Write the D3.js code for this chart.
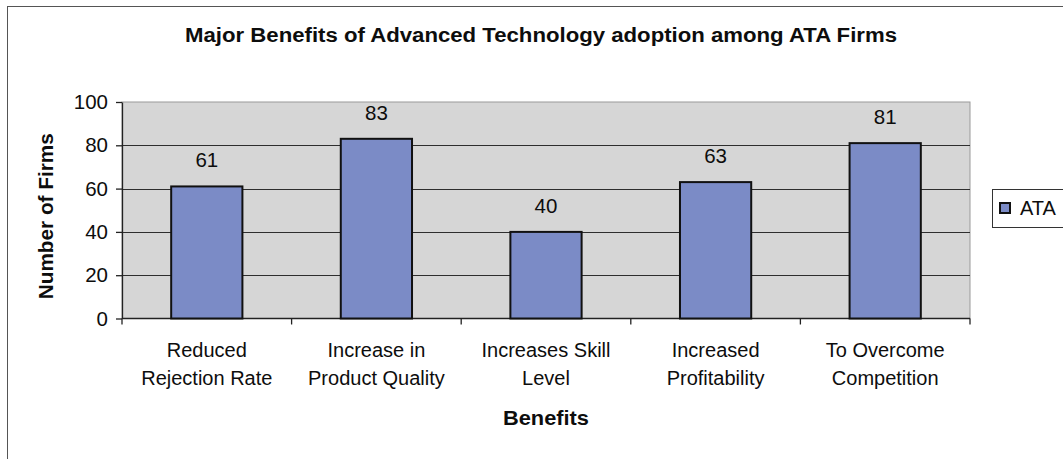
<!DOCTYPE html>
<html>
<head>
<meta charset="utf-8">
<script src="https://cdn.jsdelivr.net/npm/d3@7"></script>
<style>
  html, body { margin: 0; padding: 0; background: #fff; }
  svg { display: block; font-family: "Liberation Sans", Arial, sans-serif; }
</style>
</head>
<body>
<svg id="chart" width="1063" height="459"></svg>
<script>
// Benefits reported by ATA firms adopting advanced technology
const categories = [
  ["Reduced", "Rejection Rate"],
  ["Increase in", "Product Quality"],
  ["Increases Skill", "Level"],
  ["Increased", "Profitability"],
  ["To Overcome", "Competition"]
];
const ataValues = [61, 83, 40, 63, 81];
const yTicks = [0, 20, 40, 60, 80, 100];
const seriesName = "ATA";

const svg = d3.select("#chart");
const plot = { left: 122, right: 970, top: 102, bottom: 318.5 };
const ink = "#0d0d0d";

// outer chart frame
svg.append("rect")
  .attr("x", 7.5).attr("y", 6.5)
  .attr("width", 1100).attr("height", 460)
  .attr("fill", "#fff").attr("stroke", "#555").attr("stroke-width", 1);

const x = d3.scaleBand()
  .domain(d3.range(categories.length))
  .range([plot.left, plot.right])
  .paddingInner(0.58).paddingOuter(0.29);

const y = d3.scaleLinear().domain([0, 100]).range([plot.bottom, plot.top]);

// plot area
svg.append("rect")
  .attr("x", plot.left).attr("y", plot.top)
  .attr("width", plot.right - plot.left).attr("height", plot.bottom - plot.top)
  .attr("fill", "#d6d6d6").attr("stroke", "#9a9a9a").attr("stroke-width", 1);

// horizontal gridlines
svg.append("g")
  .selectAll("line")
  .data(yTicks.filter(t => t > 0 && t < 100))
  .join("line")
  .attr("x1", plot.left).attr("x2", plot.right)
  .attr("y1", d => Math.round(y(d)) + 0.5).attr("y2", d => Math.round(y(d)) + 0.5)
  .attr("stroke", "#2e2e2e").attr("stroke-width", 1.2);

// y axis
const yAxis = svg.append("g")
  .attr("transform", `translate(${plot.left},0)`)
  .call(d3.axisLeft(y).tickValues(yTicks).tickSize(6).tickPadding(8).tickSizeOuter(0));
yAxis.select(".domain").attr("stroke", "#222").attr("stroke-width", 1.3);
yAxis.selectAll(".tick line").attr("stroke", "#222").attr("stroke-width", 1.3);
yAxis.selectAll(".tick text")
  .attr("font-size", 20.5).attr("fill", ink)
  .attr("font-family", "'Liberation Sans', Arial, sans-serif");

// x axis with ticks at category boundaries
const step = x.step();
const boundaries = d3.range(categories.length + 1).map(i => plot.left + i * step);
svg.append("line")
  .attr("x1", plot.left).attr("x2", plot.right)
  .attr("y1", plot.bottom).attr("y2", plot.bottom)
  .attr("stroke", "#222").attr("stroke-width", 1.5);
svg.append("g").selectAll("line")
  .data(boundaries)
  .join("line")
  .attr("x1", d => d).attr("x2", d => d)
  .attr("y1", plot.bottom).attr("y2", plot.bottom + 6)
  .attr("stroke", "#222").attr("stroke-width", 1.3);

// bars
svg.append("g").selectAll("rect")
  .data(ataValues)
  .join("rect")
  .attr("x", (d, i) => x(i))
  .attr("y", d => y(d))
  .attr("width", x.bandwidth())
  .attr("height", d => y(0) - y(d))
  .attr("fill", "#7b8bc6")
  .attr("stroke", "#111").attr("stroke-width", 2);

// value labels
svg.append("g").selectAll("text")
  .data(ataValues)
  .join("text")
  .attr("x", (d, i) => x(i) + x.bandwidth() / 2)
  .attr("y", d => y(d) - 19)
  .attr("text-anchor", "middle")
  .attr("font-size", 20.5).attr("fill", ink)
  .text(d => d);

// category labels (two lines)
const catG = svg.append("g").selectAll("text")
  .data(categories)
  .join("text")
  .attr("x", (d, i) => x(i) + x.bandwidth() / 2)
  .attr("y", 357)
  .attr("text-anchor", "middle")
  .attr("font-size", 20).attr("fill", ink);
catG.selectAll("tspan")
  .data(d => d)
  .join("tspan")
  .attr("x", function () { return this.parentNode.getAttribute("x"); })
  .attr("dy", (d, j) => j === 0 ? 0 : 28)
  .text(d => d);

// titles
svg.append("text")
  .attr("x", 541).attr("y", 42)
  .attr("text-anchor", "middle")
  .attr("font-size", 20).attr("font-weight", "bold").attr("fill", ink)
  .attr("textLength", 712).attr("lengthAdjust", "spacingAndGlyphs")
  .text("Major Benefits of Advanced Technology adoption among ATA Firms");

svg.append("text")
  .attr("x", (plot.left + plot.right) / 2).attr("y", 425)
  .attr("text-anchor", "middle")
  .attr("font-size", 21).attr("font-weight", "bold").attr("fill", ink)
  .attr("textLength", 86).attr("lengthAdjust", "spacingAndGlyphs")
  .text("Benefits");

svg.append("text")
  .attr("transform", `translate(53,${(plot.top + plot.bottom) / 2 + 6}) rotate(-90)`)
  .attr("text-anchor", "middle")
  .attr("font-size", 20.5).attr("font-weight", "bold").attr("fill", ink)
  .attr("textLength", 166).attr("lengthAdjust", "spacingAndGlyphs")
  .text("Number of Firms");

// legend
const legend = svg.append("g");
legend.append("rect")
  .attr("x", 992.5).attr("y", 189.5).attr("width", 90).attr("height", 38)
  .attr("fill", "#fff").attr("stroke", "#333").attr("stroke-width", 1);
legend.append("rect")
  .attr("x", 1000).attr("y", 203).attr("width", 10).attr("height", 10)
  .attr("fill", "#7b8bc6").attr("stroke", "#111").attr("stroke-width", 2);
legend.append("text")
  .attr("x", 1020).attr("y", 215)
  .attr("font-size", 20).attr("fill", ink)
  .text(seriesName);
</script>
</body>
</html>
